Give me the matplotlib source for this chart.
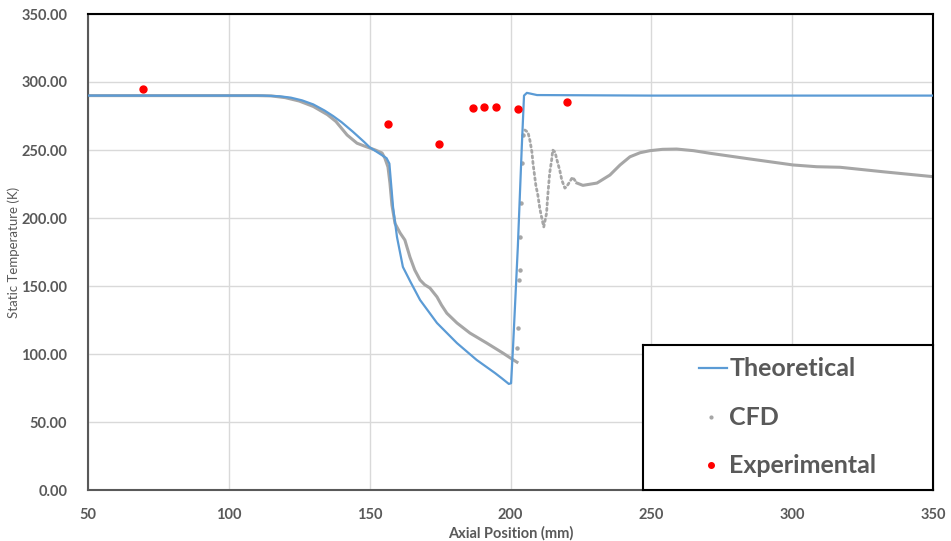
import matplotlib
matplotlib.use("Agg")
import matplotlib.pyplot as plt

plt.rcParams['font.family'] = ['Lato', 'DejaVu Sans']

# Theoretical curve
theo_x = [50, 100, 112, 118, 122, 126, 130, 134, 137, 140, 144, 148, 150, 153, 156, 157,
          158.3, 159.7, 161.8, 164.5, 167.9, 173.9, 181, 188, 194.5, 197, 198.5, 199.4,
          200.2, 200.9, 202.6, 204, 204.8, 205.8, 207, 209.4, 250, 300, 350]
theo_t = [290, 290, 290, 289.5, 288.5, 286.5, 283.5, 279, 275, 270.5, 263.5, 256, 252, 248, 244, 240,
          208, 186, 164, 153, 139.7, 122.8, 108, 95.6, 86, 82, 79.5, 78,
          78.5, 105, 178.7, 252, 290, 292, 291.5, 290.4, 290, 290, 290]

# CFD upstream of the shock
cfd_up_x = [50, 110, 115, 120, 125, 130, 135, 138, 142, 145.5, 148, 150, 152, 154.4, 155.4,
            156.5, 157.2, 157.9, 159, 160.8, 162.5, 164.3, 166, 167.9, 169.5, 171.4, 173.9,
            175.5, 177.4, 181, 185.6, 191.6, 197.3, 200, 202.3]
cfd_up_t = [290, 290, 289.8, 288.5, 286, 282, 276, 271, 261, 255, 253, 251.5, 250, 247.8, 244,
            237.5, 225.7, 209.6, 196, 189, 183.8, 171.3, 161.8, 154.4, 151, 148.5, 142,
            136, 130, 122.8, 115.4, 108, 100.7, 97, 94]

# CFD points across the shock (sparse)
cfd_jump_x = [202.2, 202.8, 203.1, 203.4, 203.4, 203.6, 204.0, 204.5]
cfd_jump_t = [104.2, 118.9, 154.4, 161.8, 186.3, 210.8, 240.2, 261]

# CFD just behind the shock (oscillating, sparse dots)
cfd_wave_x = [205.1, 206.2, 206.9, 207.6, 208, 209, 209.7, 210.4, 211, 211.8, 212.8, 213.2,
              213.9, 214.6, 215, 215.8, 216.5, 217.5, 218.2, 219.3, 219.9, 221, 222, 223.6]
cfd_wave_t = [264.7, 263, 257, 248.5, 240, 224, 217, 207, 201, 193.4, 203.5, 215.7,
              233, 242.6, 250, 248.5, 242.6, 235, 228, 222, 223, 226.5, 230, 225.7]

# CFD further downstream
cfd_down_x = [223.6, 225.7, 230.7, 235.3, 238.9, 242.4, 246, 249.5, 254, 259, 265, 270.8, 285,
              300.3, 308.7, 317, 332.3, 350]
cfd_down_t = [225.7, 224, 225.7, 231.6, 239, 245, 248, 249.5, 250.5, 250.7, 249.5, 247.6, 243.4,
              239, 237.7, 237.3, 234, 230.4]

# Experimental measurements
exp_x = [69.5, 156.5, 174.6, 186.7, 190.6, 194.8, 202.6, 220]
exp_t = [294.9, 269.1, 254.4, 280.9, 281.6, 281.6, 280.1, 285.3]

W, H = 951, 541
fig = plt.figure(figsize=(W / 100, H / 100), dpi=100)
ax = fig.add_axes([88 / W, 1 - 490 / H, (933 - 88) / W, (490 - 14) / H])

txt = '#595959'
gray = '#a6a6a6'

ax.plot(cfd_up_x, cfd_up_t, color=gray, lw=2.2, zorder=2)
ax.plot(cfd_down_x, cfd_down_t, color=gray, lw=2.2, zorder=2)
ax.plot(cfd_wave_x, cfd_wave_t, color=gray, lw=2, ls=(0, (0.8, 1.2)),
        dash_capstyle='round', zorder=2)
ax.plot(cfd_jump_x, cfd_jump_t, 'o', color=gray, ms=2.2, zorder=2)
ax.plot(theo_x, theo_t, color='#5b9bd5', lw=1.6, zorder=3)
ax.plot(exp_x, exp_t, 'o', color='#ff0000', ms=5, zorder=4)

ax.set_xlim(50, 350)
ax.set_ylim(0, 350)
ax.set_xticks(range(50, 351, 50))
ax.set_yticks(range(0, 351, 50))
ax.set_yticklabels([f'{v:.2f}' for v in range(0, 351, 50)])
ax.grid(True, color='#d9d9d9', lw=1)
ax.set_axisbelow(True)
ax.tick_params(length=0, labelsize=10.5, labelcolor=txt)
for lab in ax.get_xticklabels() + ax.get_yticklabels():
    lab.set_fontweight('bold')
ax.tick_params(axis='y', pad=15)
ax.tick_params(axis='x', pad=13)
for side in ['left', 'bottom']:
    ax.spines[side].set_color('#595959')
for side in ['top', 'right']:
    ax.spines[side].set_color('black')
for s in ax.spines.values():
    s.set_linewidth(1.5)

ax.set_xlabel('Axial Position (mm)', fontsize=10.5, fontweight='bold', color=txt, labelpad=3)
fig.text(14 / W, 1 - 252 / H, 'Static Temperature (K)', rotation=90, fontsize=9.5,
         color=txt, ha='center', va='center')

# legend box
lg = fig.add_axes([643 / W, 1 - 490 / H, (933 - 643) / W, (490 - 345) / H], zorder=5)
lg.set_xlim(0, 1)
lg.set_ylim(0, 1)
lg.set_xticks([])
lg.set_yticks([])
for s in lg.spines.values():
    s.set_color('black')
    s.set_linewidth(1.5)
lg.plot([0.193, 0.290], [0.841, 0.841], color='#5b9bd5', lw=1.6)
lg.plot([0.235], [0.503], 'o', color=gray, ms=2)
lg.plot([0.235], [0.172], 'o', color='#ff0000', ms=4)
for y, label in [(0.841, 'Theoretical'), (0.503, 'CFD'), (0.172, 'Experimental')]:
    lg.text(0.297, y, label, fontsize=18, fontweight='bold', color=txt, va='center', ha='left')

fig.savefig('out.png', dpi=100)
